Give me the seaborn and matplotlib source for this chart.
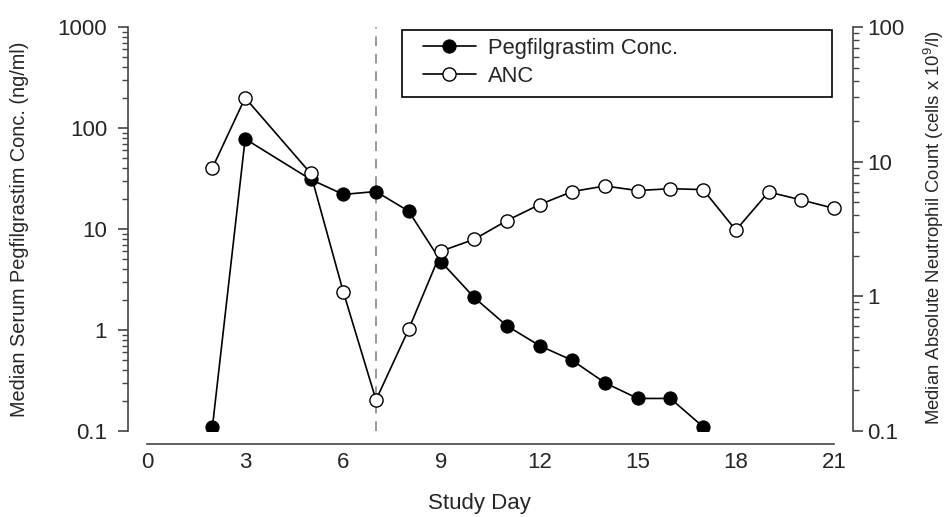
import matplotlib
matplotlib.use("Agg")
import matplotlib.pyplot as plt
import matplotlib.patches as mpatches
import seaborn as sns
import pandas as pd
from matplotlib.ticker import LogLocator, FixedLocator, NullFormatter, FixedFormatter

# data
peg_days = [2, 3, 5, 6, 7, 8, 9, 10, 11, 12, 13, 14, 15, 16, 17]
peg_conc = [0.11, 78, 31, 22, 23.5, 15, 4.7, 2.1, 1.1, 0.7, 0.5, 0.3, 0.21, 0.21, 0.11]

anc_days = [2, 3, 5, 6, 7, 8, 9, 10, 11, 12, 13, 14, 15, 16, 17, 18, 19, 20, 21]
anc_vals = [9.0, 29.8, 8.2, 1.08, 0.17, 0.57, 2.17, 2.65, 3.65, 4.8, 6.0, 6.6,
            6.1, 6.3, 6.2, 3.1, 5.95, 5.2, 4.5]

x_ticks = [0, 3, 6, 9, 12, 15, 18, 21]
left_ticks = [0.1, 1, 10, 100, 1000]
left_labels = ["0.1", "1", "10", "100", "1000"]
right_ticks = [0.1, 1, 10, 100]
right_labels = ["0.1", "1", "10", "100"]
dose_day = 7

sns.set_style("white")
plt.rcParams['font.family'] = ['Liberation Sans', 'DejaVu Sans']
plt.rcParams['mathtext.fontset'] = 'custom'
plt.rcParams['mathtext.rm'] = 'Liberation Sans'
plt.rcParams['mathtext.it'] = 'Liberation Sans'

peg_df = pd.DataFrame({'day': peg_days, 'conc': peg_conc})
anc_df = pd.DataFrame({'day': anc_days, 'anc': anc_vals})

fig = plt.figure(figsize=(9.45, 5.17), dpi=100)
ax = fig.add_axes([128 / 945, 1 - 431 / 517, (853 - 128) / 945, (431 - 27) / 517])
ax2 = ax.twinx()

# dashed line for day 7
ax.axvline(dose_day, color='#9a9a9a', linestyle=(0, (5, 4)), linewidth=1.4, zorder=1)

sns.lineplot(data=peg_df, x='day', y='conc', ax=ax, color='black', linewidth=1.2,
             marker='o', markersize=9.5, markerfacecolor='black', markeredgecolor='black',
             label='Pegfilgrastim Conc.', legend=False)
sns.lineplot(data=anc_df, x='day', y='anc', ax=ax2, color='black', linewidth=1.2,
             marker='o', markersize=9.5, markerfacecolor='white', markeredgecolor='black',
             markeredgewidth=1.0, label='ANC', legend=False)

px = (834 - 147) / 21
ax.set_xlim(0 - (147 - 128) / px, 21 + (853 - 834) / px)
ax.set_yscale('log')
ax.set_ylim(0.1, 1000)
ax2.set_yscale('log')
ax2.set_ylim(0.1, 100)

spine_col = '#444444'
for a in (ax, ax2):
    for s in a.spines.values():
        s.set_visible(False)
        s.set_color(spine_col)
        s.set_linewidth(1.2)
ax.spines['left'].set_visible(True)
ax.spines['bottom'].set_visible(True)
ax.spines['bottom'].set_position(('outward', 9))
ax.spines['bottom'].set_bounds(0, 21)
ax2.spines['right'].set_visible(True)

ax.set_xticks(x_ticks)
ax.tick_params(axis='x', direction='in', length=6, width=1.2, color=spine_col,
               labelsize=16, pad=6)

ax.yaxis.set_major_locator(FixedLocator(left_ticks))
ax.yaxis.set_major_formatter(FixedFormatter(left_labels))
ax.yaxis.set_minor_locator(LogLocator(base=10, subs=range(2, 10), numticks=20))
ax.yaxis.set_minor_formatter(NullFormatter())
ax.tick_params(axis='y', which='major', direction='out', length=7, width=1.2,
               color=spine_col, labelsize=16, pad=8, left=True)
ax.tick_params(axis='y', which='minor', direction='out', length=4, width=1.0,
               color=spine_col, left=True)

ax2.yaxis.set_major_locator(FixedLocator(right_ticks))
ax2.yaxis.set_major_formatter(FixedFormatter(right_labels))
ax2.yaxis.set_minor_locator(LogLocator(base=10, subs=range(2, 10), numticks=20))
ax2.yaxis.set_minor_formatter(NullFormatter())
ax2.tick_params(axis='y', which='major', direction='out', length=7, width=1.2,
                color=spine_col, labelsize=16, pad=3, right=True)
ax2.tick_params(axis='y', which='minor', direction='out', length=4, width=1.0,
                color=spine_col, right=True)

ax.set_xlabel('Study Day', fontsize=16)
ax.xaxis.set_label_coords((479 - 128) / 725, (431 - 493) / 404)
ax.set_ylabel('Median Serum Pegfilgrastim Conc. (ng/ml)', fontsize=14.3)
ax.yaxis.set_label_coords((29 - 128) / 725, 1 - (229 - 27) / 404)
ax2.set_ylabel(r'Median Absolute Neutrophil Count (cells x 10$^{9}$/l)', fontsize=13.3)
ax2.yaxis.set_label_coords((922 - 128) / 725, 1 - (228 - 27) / 404)

# legend: frame drawn separately so the inner padding can match the reference
h1, l1 = ax.get_legend_handles_labels()
h2, l2 = ax2.get_legend_handles_labels()
leg = ax2.legend(h1 + h2, l1 + l2, loc='upper left',
                 bbox_to_anchor=((423 - 128) / 725, 1 - (38 - 27) / 404),
                 borderaxespad=0, borderpad=0, fontsize=15.8, frameon=False,
                 handlelength=2.4, handletextpad=0.55, labelspacing=0.3)
leg.set_zorder(10)
frame = mpatches.Rectangle((402 / 945, 1 - 97 / 517), (832 - 402) / 945, (97 - 30) / 517,
                           transform=fig.transFigure, facecolor='white',
                           edgecolor='black', linewidth=1.2, zorder=9, clip_on=False)
ax2.add_patch(frame)

fig.savefig('out.png', dpi=100)
